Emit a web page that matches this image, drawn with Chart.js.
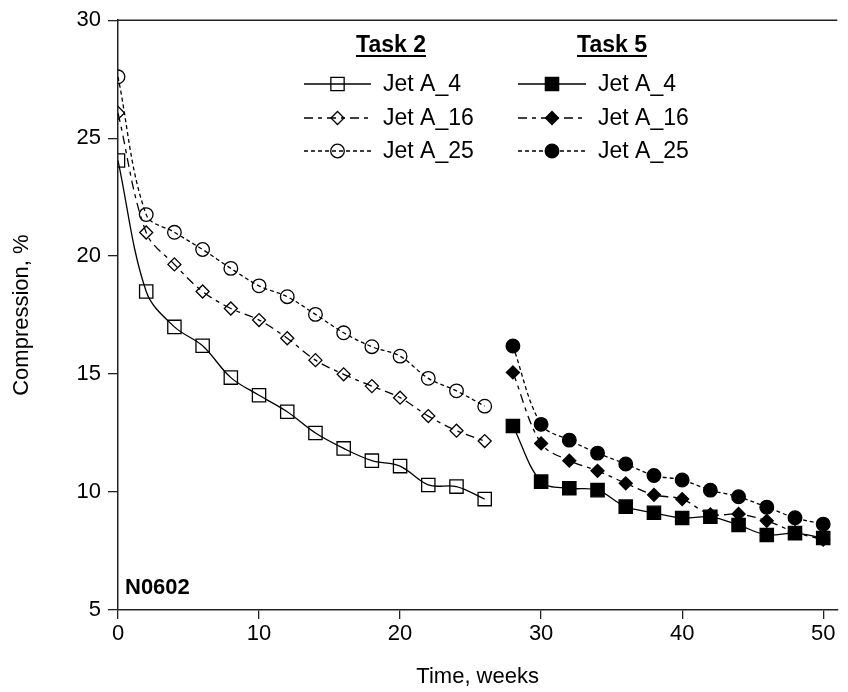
<!DOCTYPE html>
<html>
<head>
<meta charset="utf-8">
<script src="https://cdn.jsdelivr.net/npm/chart.js@4.4.1/dist/chart.umd.min.js"></script>
<style>
  html, body { margin: 0; padding: 0; background: #fff; }
</style>
</head>
<body>
<canvas id="compressionChart" width="848" height="692"></canvas>
<script>
// Data
const weeksTask2 = [0, 2, 4, 6, 8, 10, 12, 14, 16, 18, 20, 22, 24, 26];
const weeksTask5 = [28, 30, 32, 34, 36, 38, 40, 42, 44, 46, 48, 50];

const task2JetA4  = [24.05, 18.5, 17.0, 16.2, 14.85, 14.1, 13.4, 12.5, 11.85, 11.33, 11.1, 10.3, 10.23, 9.7];
const task2JetA16 = [26.07, 21.0, 19.65, 18.5, 17.78, 17.29, 16.52, 15.59, 14.99, 14.49, 14.0, 13.22, 12.6, 12.16];
const task2JetA25 = [27.6, 21.76, 21.01, 20.28, 19.48, 18.74, 18.28, 17.53, 16.75, 16.16, 15.76, 14.82, 14.29, 13.64];

const task5JetA4  = [12.8, 10.44, 10.16, 10.08, 9.38, 9.12, 8.9, 8.95, 8.6, 8.18, 8.26, 8.05];
const task5JetA16 = [15.07, 12.06, 11.33, 10.9, 10.37, 9.88, 9.7, 9.05, 9.07, 8.78, 8.3, 7.98];
const task5JetA25 = [16.19, 12.87, 12.2, 11.65, 11.19, 10.7, 10.51, 10.08, 9.8, 9.36, 8.91, 8.64];

const xTickValues = [0, 10, 20, 30, 40, 50];
const yTickValues = [5, 10, 15, 20, 25, 30];
const seriesNames = ["Jet A_4", "Jet A_16", "Jet A_25"];
const groupTitles = ["Task 2", "Task 5"];
const sampleLabel = "N0602";

const FONT = "'Liberation Sans', Arial, sans-serif";
const INK = "#000";

// line style per fuel
const dashes = [[], [9, 5, 4, 5], [4, 3]];
const shapes = ["rect", "rectRot", "circle"];
const radii = [9.4, 6.5, 6.8];

function toPoints(xs, ys) {
  return xs.map((x, i) => ({ x: x, y: ys[i] }));
}

function makeSet(label, xs, ys, idx, filled) {
  return {
    label: label,
    data: toPoints(xs, ys),
    borderColor: INK,
    borderWidth: 1.3,
    borderDash: dashes[idx],
    pointStyle: shapes[idx],
    pointRadius: radii[idx],
    pointBorderWidth: 1.3,
    pointBorderColor: INK,
    pointBackgroundColor: filled ? INK : "rgba(0,0,0,0)",
    tension: 0.35,
    fill: false
  };
}

const datasets = [
  makeSet(seriesNames[0], weeksTask2, task2JetA4, 0, false),
  makeSet(seriesNames[1], weeksTask2, task2JetA16, 1, false),
  makeSet(seriesNames[2], weeksTask2, task2JetA25, 2, false),
  makeSet(seriesNames[0], weeksTask5, task5JetA4, 0, true),
  makeSet(seriesNames[1], weeksTask5, task5JetA16, 1, true),
  makeSet(seriesNames[2], weeksTask5, task5JetA25, 2, true)
];

// legend, top frame line and sample label
const decorations = {
  id: "decorations",
  afterDraw(chart) {
    const ctx = chart.ctx;
    const area = chart.chartArea;
    ctx.save();

    // top frame line
    ctx.strokeStyle = "#222";
    ctx.lineWidth = 1.5;
    ctx.beginPath();
    ctx.moveTo(area.left, area.top);
    ctx.lineTo(area.right, area.top);
    ctx.stroke();

    // two legend columns
    const cols = [
      { lineStart: 304, lineEnd: 371, titleX: 391, filled: false },
      { lineStart: 518, lineEnd: 586, titleX: 612, filled: true }
    ];
    const rowY = [84, 118, 151];

    cols.forEach((col, c) => {
      ctx.fillStyle = INK;
      ctx.font = "bold 23px " + FONT;
      ctx.textAlign = "center";
      ctx.textBaseline = "alphabetic";
      ctx.fillText(groupTitles[c], col.titleX, 52);
      const w = ctx.measureText(groupTitles[c]).width;
      ctx.fillRect(col.titleX - w / 2, 55, w, 2);

      seriesNames.forEach((name, r) => {
        const y = rowY[r];
        ctx.strokeStyle = INK;
        ctx.lineWidth = 1.3;
        ctx.setLineDash(dashes[r]);
        ctx.beginPath();
        ctx.moveTo(col.lineStart, y);
        ctx.lineTo(col.lineEnd, y);
        ctx.stroke();
        ctx.setLineDash([]);

        const mx = (col.lineStart + col.lineEnd) / 2;
        ctx.fillStyle = col.filled ? INK : "rgba(0,0,0,0)";
        ctx.strokeStyle = INK;
        ctx.lineWidth = 1.3;
        Chart.helpers.drawPoint(ctx, {
          pointStyle: shapes[r],
          radius: radii[r],
          rotation: 0,
          borderWidth: 1.3
        }, mx, y);

        ctx.fillStyle = INK;
        ctx.font = "23px " + FONT;
        ctx.textAlign = "left";
        ctx.textBaseline = "middle";
        ctx.fillText(name, col.lineEnd + 12, y + 1);
      });
    });

    // sample id
    ctx.fillStyle = INK;
    ctx.font = "bold 22px " + FONT;
    ctx.textAlign = "left";
    ctx.textBaseline = "alphabetic";
    ctx.fillText(sampleLabel, area.left + 7, area.bottom - 16);

    ctx.restore();
  }
};

const ctx = document.getElementById("compressionChart").getContext("2d");
const chart = new Chart(ctx, {
  type: "line",
  data: { datasets: datasets },
  plugins: [decorations],
  options: {
    responsive: false,
    animation: false,
    layout: { padding: { left: 0, right: 7, top: 20, bottom: 0 } },
    plugins: {
      legend: { display: false },
      tooltip: { enabled: false }
    },
    scales: {
      x: {
        type: "linear",
        min: 0,
        max: 51,
        afterBuildTicks: (scale) => { scale.ticks = xTickValues.map(v => ({ value: v })); },
        afterFit: (scale) => { scale.height = 82; },
        grid: { display: true, drawOnChartArea: false, drawTicks: true, tickLength: 9, color: "#222", lineWidth: 1.3 },
        border: { display: true, color: "#222", width: 1.5 },
        ticks: { color: INK, font: { family: FONT, size: 22 }, padding: 2, maxRotation: 0 },
        title: { display: true, text: "Time, weeks", color: INK, font: { family: FONT, size: 22 }, padding: { top: 0, bottom: 2 } }
      },
      y: {
        type: "linear",
        min: 5,
        max: 30,
        afterBuildTicks: (scale) => { scale.ticks = yTickValues.map(v => ({ value: v })); },
        afterFit: (scale) => { scale.width = 118; },
        grid: { display: true, drawOnChartArea: false, drawTicks: true, tickLength: 10, color: "#222", lineWidth: 1.3 },
        border: { display: true, color: "#222", width: 1.5 },
        ticks: { color: INK, font: { family: FONT, size: 22 }, padding: 7 },
        title: { display: true, text: "Compression, %", color: INK, font: { family: FONT, size: 22 }, padding: { top: 9, bottom: 0 } }
      }
    }
  }
});
</script>
</body>
</html>
